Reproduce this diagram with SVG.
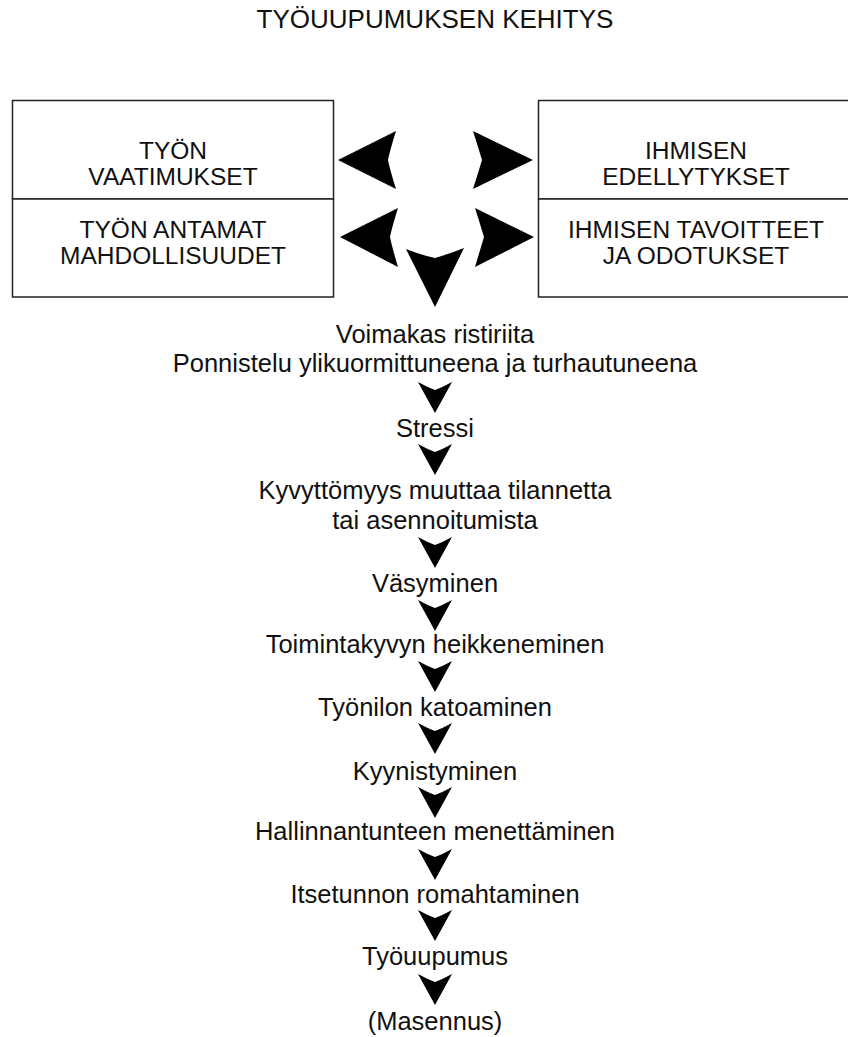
<svg xmlns="http://www.w3.org/2000/svg" width="848" height="1037" viewBox="0 0 848 1037">
<style>
.t{font-family:"Liberation Sans",Arial,sans-serif;fill:#111;text-anchor:middle}
.box{fill:#fff;stroke:#222;stroke-width:1.5}
.step{font-size:25.5px}
.btxt{font-size:24.5px}
.arr{fill:#000}
</style>
<rect width="848" height="1037" fill="#fff"/>
<g id="title"><text class="t" x="435" y="28" font-size="26">TYÖUUPUMUKSEN KEHITYS</text></g>
<g id="tyon-vaatimukset">
<rect class="box" x="12.5" y="100.5" width="321" height="98.5"/>
<text class="t btxt" x="173" y="159">TYÖN</text>
<text class="t btxt" x="173" y="185">VAATIMUKSET</text>
</g>
<g id="tyon-mahdollisuudet">
<rect class="box" x="12.5" y="199" width="321" height="98"/>
<text class="t btxt" x="173" y="238">TYÖN ANTAMAT</text>
<text class="t btxt" x="173" y="264">MAHDOLLISUUDET</text>
</g>
<g id="ihmisen-edellytykset">
<rect class="box" x="538.5" y="100.5" width="320" height="98.5"/>
<text class="t btxt" x="696" y="159">IHMISEN</text>
<text class="t btxt" x="696" y="185">EDELLYTYKSET</text>
</g>
<g id="ihmisen-tavoitteet">
<rect class="box" x="538.5" y="199" width="320" height="98"/>
<text class="t btxt" x="696" y="238">IHMISEN TAVOITTEET</text>
<text class="t btxt" x="696" y="264">JA ODOTUKSET</text>
</g>
<g id="n1"><text class="t step" x="435" y="343">Voimakas ristiriita</text><text class="t step" x="435" y="372">Ponnistelu ylikuormittuneena ja turhautuneena</text></g>
<g id="n2"><text class="t step" x="435" y="437">Stressi</text></g>
<g id="n3"><text class="t step" x="435" y="499">Kyvyttömyys muuttaa tilannetta</text><text class="t step" x="435" y="529">tai asennoitumista</text></g>
<g id="n4"><text class="t step" x="435" y="592">Väsyminen</text></g>
<g id="n5"><text class="t step" x="435" y="653">Toimintakyvyn heikkeneminen</text></g>
<g id="n6"><text class="t step" x="435" y="716">Työnilon katoaminen</text></g>
<g id="n7"><text class="t step" x="435" y="780">Kyynistyminen</text></g>
<g id="n8"><text class="t step" x="435" y="840">Hallinnantunteen menettäminen</text></g>
<g id="n9"><text class="t step" x="435" y="903">Itsetunnon romahtaminen</text></g>
<g id="n10"><text class="t step" x="435" y="965">Työuupumus</text></g>
<g id="n11"><text class="t step" x="435" y="1030">(Masennus)</text></g>
<defs>
<path id="dn" d="M-17,0 Q-8,5 0,8 Q8,5 17,0 L0,31 Z"/>
</defs>
<g id="connectors" class="arr">
<path d="M338,160 L396,131 Q390,150 388,160 Q390,170 396,189 Z"/>
<path d="M340,237 L398,208 Q392,227 390,237 Q392,247 398,267 Z"/>
<path d="M533,160 L473,131 Q479,150 482,160 Q479,170 473,189 Z"/>
<path d="M534,237 L475,208 Q481,227 484,237 Q481,247 475,267 Z"/>
<path d="M406,249 Q421,255 435,258 Q449,254 464,248 L435,307 Z"/>
<use href="#dn" x="435" y="382"/>
<use href="#dn" x="435" y="444"/>
<use href="#dn" x="435" y="537"/>
<use href="#dn" x="435" y="600"/>
<use href="#dn" x="435" y="661"/>
<use href="#dn" x="435" y="723"/>
<use href="#dn" x="435" y="787"/>
<use href="#dn" x="435" y="849"/>
<use href="#dn" x="435" y="910"/>
<use href="#dn" x="435" y="974"/>
</g>
</svg>
